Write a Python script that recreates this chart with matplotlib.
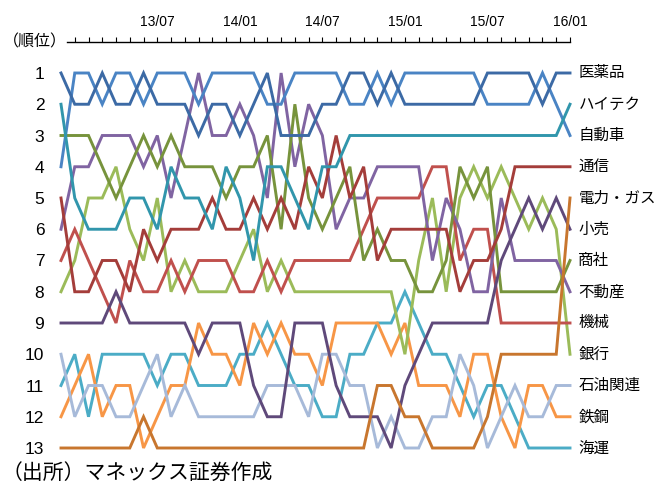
import matplotlib
matplotlib.use("Agg")
import matplotlib.pyplot as plt

plt.rcParams['font.family'] = ['Liberation Sans', 'Noto Sans CJK JP', 'DejaVu Sans']

# months 12/12 .. 16/01
months = [f"{y:02d}/{m:02d}" for y, m in
          [(12, 12)] + [(yy, mm) for yy in (13, 14, 15) for mm in range(1, 13)] + [(16, 1)]]
tick_labels = ["13/07", "14/01", "14/07", "15/01", "15/07", "16/01"]

# ranks per sector
iyaku    = [1,2,2,1,2,2,1,2,2,2, 3,2,2,3,2,1,3,3,3,2, 2,1,1,2,1,2,2,2,2,2, 2,1,1,1,1,2,1,1]
hightech = [2,5,6,6,6,5,5,6,4,5, 5,6,4,5,7,4,4,5,6,4, 4,3,3,3,3,3,3,3,3,3, 3,3,3,3,3,3,3,2]
jidosha  = [4,1,1,2,1,1,2,1,1,1, 2,1,1,1,1,2,2,1,1,1, 1,2,2,1,2,1,1,1,1,1, 1,2,2,2,2,1,2,3]
tsushin  = [5,8,8,7,7,8,6,7,6,6, 6,5,6,6,5,6,5,6,4,5, 3,5,4,7,6,6,6,6,6,8, 7,7,6,4,4,4,4,4]
denryoku = [13,13,13,13,13,13,12,13,13,13, 13,13,13,13,13,13,13,13,13,13,
            13,13,13,11,11,12,12,13,13,13, 13,12,10,10,10,10,10,5]
kouri    = [9,9,9,9,8,9,9,9,9,9, 10,9,9,9,11,12,12,9,9,9, 11,12,12,12,13,11,10,9,9,9, 9,9,7,6,5,6,5,6]
shosha   = [3,3,3,4,5,4,3,4,3,4, 4,4,5,4,4,3,6,2,5,6, 5,4,7,6,7,7,8,8,7,4, 5,4,8,8,8,8,8,7]
fudosan  = [6,4,4,3,3,3,4,3,5,3, 1,3,3,2,3,5,1,4,2,3, 6,5,5,4,4,4,4,7,5,6, 8,8,5,7,7,7,7,8]
kikai    = [7,6,7,8,9,7,8,8,7,8, 7,7,7,8,8,7,8,7,7,7, 7,7,6,5,5,5,5,4,4,7, 6,6,9,9,9,9,9,9]
ginko    = [8,7,5,5,4,6,7,5,8,7, 8,8,8,7,6,8,7,8,8,8, 8,8,8,8,8,10,7,5,8,5, 4,5,4,5,6,5,6,10]
sekiyu   = [10,12,11,11,12,12,11,10,12,11, 12,12,12,12,12,11,11,11,12,10,
            10,11,11,13,12,13,13,12,12,10, 11,13,12,11,12,12,11,11]
tekko    = [12,11,10,12,11,11,13,12,11,11, 9,10,10,11,9,10,9,10,10,11,
            9,9,9,9,10,9,11,11,11,12, 10,10,12,13,11,11,12,12]
kaiun    = [11,10,12,10,10,10,10,11,10,10, 11,11,11,10,10,9,10,11,11,12,
            12,10,10,9,9,8,9,10,10,11, 12,11,11,12,13,13,13,13]

series = [
    ("医薬品", iyaku, "#3C6AA5"),
    ("ハイテク", hightech, "#3196AC"),
    ("自動車", jidosha, "#4A84C4"),
    ("通信", tsushin, "#A43D3A"),
    ("電力・ガス", denryoku, "#C8762E"),
    ("小売", kouri, "#5F497A"),
    ("商社", shosha, "#77933C"),
    ("不動産", fudosan, "#8064A2"),
    ("機械", kikai, "#C0504D"),
    ("銀行", ginko, "#9BBB59"),
    ("石油関連", sekiyu, "#A7BAD9"),
    ("鉄鋼", tekko, "#F79646"),
    ("海運", kaiun, "#4BACC6"),
]

W, H = 657, 487
fig = plt.figure(figsize=(W / 100, H / 100), dpi=100)
ax = fig.add_axes([61 / W, (H - 448) / H, 509 / W, 375 / H])

xs = list(range(len(months)))
for name, ranks, color in reversed(series):
    ax.plot(xs, ranks, color=color, lw=2.1, clip_on=False, solid_joinstyle="miter")

last = len(months) - 1
for name, ranks, color in series:
    ax.annotate(name, xy=(last, ranks[-1]), xytext=(6, 0), textcoords="offset points",
                ha="left", va="center", fontsize=11.2, annotation_clip=False)

ax.set_xlim(0, last)
ax.set_ylim(13, 1)

ax.set_yticks(range(1, 14))
ax.set_yticklabels([str(r) for r in range(1, 14)], fontsize=12.5)
ax.tick_params(axis="y", length=0, pad=12)

# month axis on top
ax.xaxis.tick_top()
ax.set_xticks([months.index(t) for t in tick_labels])
ax.set_xticklabels(tick_labels, fontsize=12)
ax.set_xticks(range(1, len(months)), minor=True)
ax.tick_params(axis="x", which="both", direction="out", length=3.6, width=0.8, pad=6)

for s in ("left", "right", "bottom"):
    ax.spines[s].set_visible(False)
ax.spines["top"].set_position(("outward", 22.3))
ax.spines["top"].set_bounds(0.45, last)
ax.spines["top"].set_linewidth(1.0)

fig.text(3 / W, 1 - 42 / H, "（順位）", fontsize=11.5, ha="left", va="center")
fig.text(2 / W, 1 - 473 / H, "（出所）マネックス証券作成", fontsize=15, ha="left", va="center")

fig.savefig("out.png", dpi=100)
